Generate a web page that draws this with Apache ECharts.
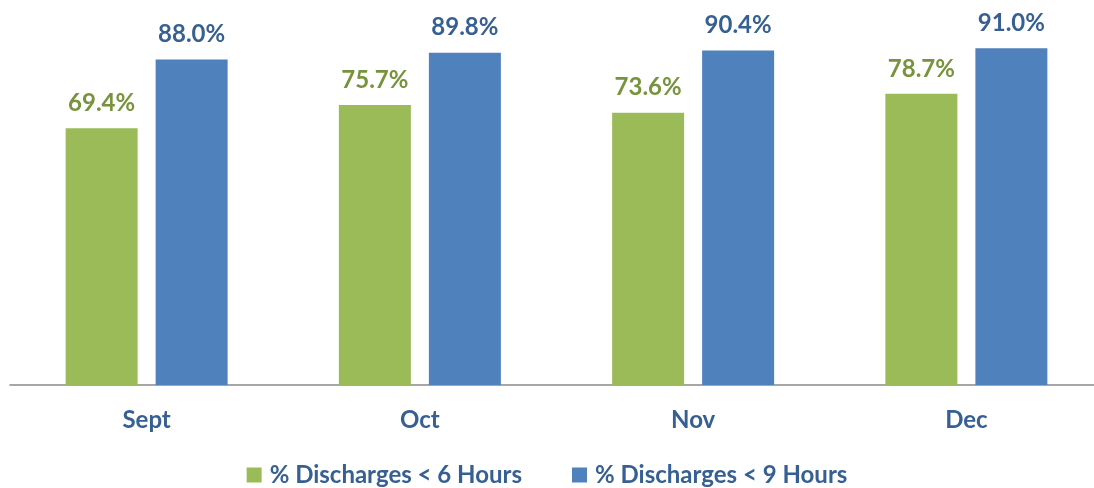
<!DOCTYPE html>
<html>
<head>
<meta charset="utf-8">
<script src="https://cdn.jsdelivr.net/npm/echarts@6/dist/echarts.min.js"></script>
<style>
  html, body { margin: 0; padding: 0; background: #fff; }
  #chart { width: 1094px; height: 488px; }
</style>
</head>
<body>
<div id="chart"></div>
<script>
var months = ['Sept', 'Oct', 'Nov', 'Dec'];
var under6 = [69.4, 75.7, 73.6, 78.7];
var under9 = [88.0, 89.8, 90.4, 91.0];
var seriesNames = ['% Discharges < 6 Hours', '% Discharges < 9 Hours'];

var font = 'Lato, "Open Sans", sans-serif';
var chart = echarts.init(document.getElementById('chart'));

function labelOf(color) {
  return {
    show: true,
    position: 'top',
    distance: 13,
    color: color,
    fontFamily: font,
    fontWeight: 'bold',
    fontSize: 24,
    formatter: function (p) { return p.value.toFixed(1) + '%'; }
  };
}

chart.setOption({
  animation: false,
  grid: { left: 10, width: 1093, top: 15, bottom: 103, outerBoundsMode: 'none', containLabel: false },
  legend: {
    bottom: -4,
    left: 'center',
    itemWidth: 15,
    itemHeight: 15,
    itemGap: 50,
    icon: 'rect',
    textStyle: { color: '#376092', fontFamily: font, fontWeight: 'bold', fontSize: 24, padding: [0, 0, 0, 3] },
    data: seriesNames
  },
  xAxis: {
    type: 'category',
    data: months,
    axisTick: { show: false },
    axisLine: { lineStyle: { color: '#898989', width: 1.5 } },
    axisLabel: { color: '#376092', fontFamily: font, fontWeight: 'bold', fontSize: 24, margin: 23 }
  },
  yAxis: {
    type: 'value',
    min: 0,
    max: 100,
    show: false,
    splitLine: { show: false }
  },
  series: [
    {
      name: seriesNames[0],
      type: 'bar',
      data: under6,
      barWidth: 72,
      barGap: '25%',
      itemStyle: { color: '#9bbb59' },
      label: labelOf('#77933c')
    },
    {
      name: seriesNames[1],
      type: 'bar',
      data: under9,
      barWidth: 72,
      itemStyle: { color: '#4f81bd' },
      label: labelOf('#376092')
    }
  ]
});
</script>
</body>
</html>
